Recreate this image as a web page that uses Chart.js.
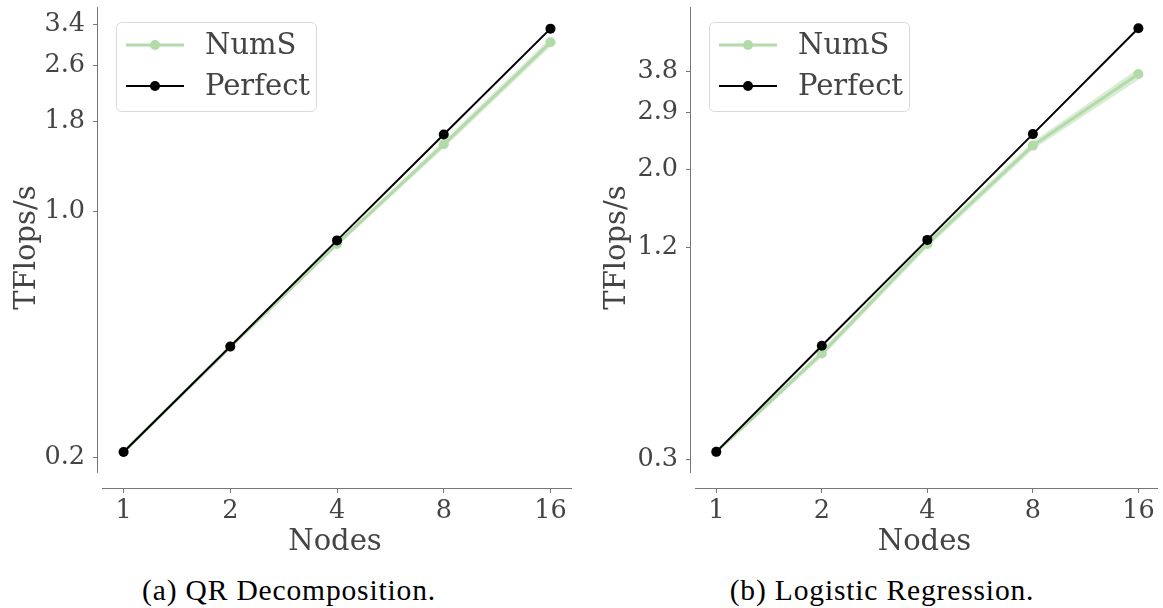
<!DOCTYPE html>
<html>
<head>
<meta charset="utf-8">
<script src="https://cdn.jsdelivr.net/npm/chart.js@4.4.1/dist/chart.umd.min.js"></script>
<style>
  html, body { margin: 0; padding: 0; background: #fff; }
  body { width: 1163px; height: 608px; position: relative; overflow: hidden; }
  canvas { position: absolute; top: 0; }
  #qr { left: 0; }
  #lr { left: 590px; }
  .cap {
    position: absolute; top: 576px; line-height: 1;
    font-family: "Liberation Serif", serif; font-size: 29.5px; color: #000;
    white-space: nowrap; transform: translateX(-50%); letter-spacing: 0.85px;
  }
</style>
</head>
<body>
<canvas id="qr" width="590" height="560"></canvas>
<canvas id="lr" width="573" height="560"></canvas>
<div class="cap" style="left:289px">(a) QR Decomposition.</div>
<div class="cap" style="left:882px">(b) Logistic Regression.</div>
<script>
// data
const nodes = [1, 2, 4, 8, 16];

const qrPerfect = [0.207, 0.413, 0.827, 1.654, 3.307];
const qrNums = [0.207, 0.412, 0.808, 1.551, 3.024];
const qrNumsLo = [0.204, 0.406, 0.795, 1.515, 2.940];
const qrNumsHi = [0.210, 0.418, 0.821, 1.585, 3.110];
const qrTicks = [0.2, 1.0, 1.8, 2.6, 3.4];

const lrPerfect = [0.315, 0.631, 1.262, 2.523, 5.046];
const lrNums = [0.315, 0.600, 1.229, 2.340, 3.740];
const lrNumsLo = [0.311, 0.586, 1.200, 2.280, 3.600];
const lrNumsHi = [0.319, 0.614, 1.258, 2.400, 3.880];
const lrTicks = [0.3, 1.2, 2.0, 2.9, 3.8];

const green = '#b3daa9';
const textColor = '#444';
const serif = 'DejaVu Serif';

// left + bottom spines, detached at the corner like seaborn despine(offset)
const spines = {
    id: 'spines',
    afterDraw(chart) {
        const { ctx, chartArea: a } = chart;
        ctx.save();
        ctx.strokeStyle = '#777';
        ctx.lineWidth = 1;
        ctx.beginPath();
        ctx.moveTo(a.left - 0.5, a.top);
        ctx.lineTo(a.left - 0.5, a.bottom - 15);
        ctx.moveTo(a.left + 4, a.bottom + 0.5);
        ctx.lineTo(a.right, a.bottom + 0.5);
        ctx.stroke();
        ctx.restore();
    }
};

// legend box in the upper left corner
const legendBox = {
    id: 'legendBox',
    afterDraw(chart) {
        const { ctx, chartArea: a } = chart;
        const x = a.left + 18, y = a.top + 15, w = 200, h = 89;
        ctx.save();
        ctx.fillStyle = 'rgba(255,255,255,0.85)';
        ctx.strokeStyle = '#d9d9d9';
        ctx.lineWidth = 1;
        ctx.beginPath();
        ctx.roundRect(x + 0.5, y + 0.5, w, h, 5);
        ctx.fill();
        ctx.stroke();
        chart.data.datasets.filter(d => d.label).forEach((d, i) => {
            const cy = y + 23 + i * 41;
            ctx.strokeStyle = d.borderColor;
            ctx.lineWidth = d.borderWidth;
            ctx.beginPath();
            ctx.moveTo(x + 10, cy);
            ctx.lineTo(x + 68, cy);
            ctx.stroke();
            ctx.fillStyle = d.pointBackgroundColor;
            ctx.beginPath();
            ctx.arc(x + 39, cy, 5, 0, Math.PI * 2);
            ctx.fill();
            ctx.fillStyle = textColor;
            ctx.font = '29px "' + serif + '"';
            ctx.textBaseline = 'middle';
            ctx.fillText(d.label, x + 89, cy + 1);
        });
        ctx.restore();
    }
};

function pts(arr) {
    return nodes.map((n, i) => ({ x: n, y: arr[i] }));
}

function makeChart(id, perfect, nums, lo, hi, yTicks, yMin, yMax, xMax, yWidth, padRight) {
    new Chart(document.getElementById(id), {
        type: 'line',
        data: {
            datasets: [
                { data: pts(hi), borderWidth: 0, pointRadius: 0, fill: '+1', backgroundColor: 'rgba(179,218,169,0.5)', order: 3 },
                { data: pts(lo), borderWidth: 0, pointRadius: 0, fill: false, order: 2 },
                { label: 'NumS', data: pts(nums), borderColor: green, borderWidth: 3, pointRadius: 5, pointBackgroundColor: green, pointBorderWidth: 0, order: 1 },
                { label: 'Perfect', data: pts(perfect), borderColor: '#000', borderWidth: 2, pointRadius: 5, pointBackgroundColor: '#000', pointBorderWidth: 0, order: 0 }
            ]
        },
        options: {
            responsive: false,
            animation: false,
            layout: { padding: { top: 7, left: 0, right: padRight, bottom: 0 } },
            plugins: { legend: { display: false }, tooltip: { enabled: false } },
            scales: {
                x: {
                    type: 'logarithmic',
                    min: 0.847,
                    max: xMax,
                    afterBuildTicks: s => { s.ticks = nodes.map(v => ({ value: v })); },
                    afterFit: s => { s.height = 72; s.paddingLeft = 0; s.paddingRight = 0; },
                    ticks: { callback: v => String(v), color: textColor, font: { family: serif, size: 25.5 }, padding: 3, autoSkip: false, maxRotation: 0 },
                    grid: { drawOnChartArea: false, tickLength: 5, color: '#777' },
                    border: { display: false },
                    title: { display: true, text: 'Nodes', color: textColor, font: { family: serif, size: 29 }, padding: { top: 0, bottom: 0 } }
                },
                y: {
                    type: 'logarithmic',
                    min: yMin,
                    max: yMax,
                    afterBuildTicks: s => { s.ticks = yTicks.map(v => ({ value: v })); },
                    afterFit: s => { s.width = yWidth; s.paddingTop = 0; s.paddingBottom = 0; },
                    ticks: { callback: v => Number(v).toFixed(1), color: textColor, font: { family: serif, size: 25.5 }, padding: 8 },
                    grid: { drawOnChartArea: false, tickLength: 5, color: '#777' },
                    border: { display: false },
                    title: { display: true, text: 'TFlops/s', color: textColor, font: { family: serif, size: 29 }, padding: { top: 10, bottom: 0 } }
                }
            }
        },
        plugins: [spines, legendBox]
    });
}

makeChart('qr', qrPerfect, qrNums, qrNumsLo, qrNumsHi, qrTicks, 0.1636, 3.81, 18.4, 98, 18);
makeChart('lr', lrPerfect, lrNums, lrNumsLo, lrNumsHi, lrTicks, 0.2486, 5.80, 18.2, 101, 1);
</script>
</body>
</html>
